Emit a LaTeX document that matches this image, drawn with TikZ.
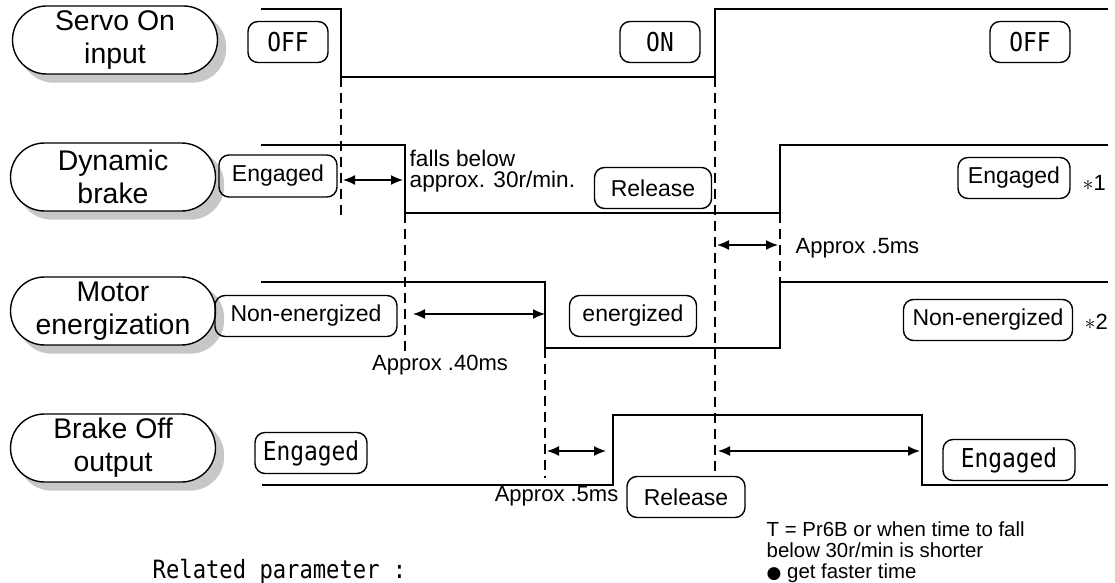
\documentclass[tikz,border=0pt]{standalone}
\usepackage{fontspec}
\setmainfont{Liberation Sans}
\newfontfamily\monofont[FakeStretch=0.88]{DejaVu Sans Mono}
\newfontfamily\symbfont{DejaVu Sans}
\usetikzlibrary{arrows.meta,backgrounds}

\begin{document}
\begin{tikzpicture}[x=0.5pt,y=-0.5pt,>={Latex[length=6pt,width=5pt]},line width=0.7pt,
  signame/.style={draw,fill=white,rounded corners=17pt,minimum width=102.5pt,minimum height=34pt,
    inner sep=0pt,align=center,font=\fontsize{14.2}{16.5}\selectfont},
  state/.style={draw,rounded corners=5pt,minimum height=20.5pt,inner sep=0pt,font=\fontsize{11.5}{13}\selectfont},
  mstate/.style={state,font=\monofont\fontsize{13}{14}\selectfont},
  guide/.style={dash pattern=on 5pt off 3pt},
  note/.style={inner sep=0pt,font=\fontsize{11}{10.5}\selectfont}]
  \useasboundingbox (0,0) rectangle (1115,583);

  % signal names
  \node[signame] (servo) at (115,40) {Servo On\\input};
  \node[signame] (dynbrake) at (113,177) {Dynamic\\brake};
  \node[signame] (motor) at (113,311) {Motor\\energization};
  \node[signame] (brakeoff) at (113,448) {Brake Off\\output};
  \begin{scope}[on background layer]
    \foreach \n in {servo,dynbrake,motor,brakeoff}
      \fill[black!22,rounded corners=17pt] ([shift={(4pt,-4pt)}]\n.south west) rectangle ([shift={(4pt,-4pt)}]\n.north east);
  \end{scope}

  % servo on input
  \draw (261,9) -- (341,9) -- (341,77) -- (715,77) -- (715,9) -- (1108,9);
  \node[mstate,minimum width=40pt] (off1) at (288,42) {OFF};
  \node[mstate,minimum width=40pt] (on) at (660,42) {ON};
  \node[mstate,minimum width=40pt] (off2) at (1030,42) {OFF};

  % dynamic brake
  \draw (261,145) -- (405,145) -- (405,213) -- (780,213) -- (780,145) -- (1108,145);
  \node[state,minimum width=59pt,minimum height=21pt] (dbeng1) at (278,176) {Engaged};
  \node[state,minimum width=58.5pt] (dbrel) at (653,188) {Release};
  \node[state,minimum width=56pt] (dbeng2) at (1014,178) {Engaged};
  \node[note,anchor=west] (star1) at (1082,183) {$\ast$1};
  \node[note,anchor=north west,align=left,font=\fontsize{11.3}{10.5}\selectfont] (falls) at (409,149) {falls below\\approx. 30r/min.};
  \draw[<->] (343,180) -- (403,180);
  \draw[<->] (717,245) -- (778,245);
  \node[note,anchor=west] (dbdelay) at (795,248) {Approx .5ms};

  % motor energization
  \draw (261,282) -- (545,282) -- (545,348) -- (780,348) -- (780,282) -- (1108,282);
  \node[state,minimum width=91pt] (mnon1) at (306,316) {Non-energized};
  \node[state,minimum width=63.5pt] (men) at (633,316) {energized};
  \node[state,minimum width=84.5pt] (mnon2) at (988,320) {Non-energized};
  \node[note,anchor=west] (star2) at (1084,322) {$\ast$2};
  \draw[<->] (413,314) -- (545,314);
  \node[note] (mdelay) at (440,365) {Approx .40ms};

  % brake off output
  \draw (262,485) -- (613,485) -- (613,415) -- (922,415) -- (922,485) -- (1108,485);
  \node[mstate,minimum width=56pt] (boeng1) at (311,453) {Engaged};
  \node[state,minimum width=59pt] (borel) at (686,497) {Release};
  \node[mstate,minimum width=66pt] (boeng2) at (1009,460) {Engaged};
  \draw[<->] (547,451) -- (606,451);
  \draw[<->] (718,451) -- (920,451);
  \node[note,anchor=east] (bodelay) at (619,496) {Approx .5ms};
  \node[note,anchor=north west,align=left,font=\fontsize{10.2}{10.5}\selectfont] (tnote) at (766,521)
    {T = Pr6B or when time to fall\\below 30r/min is shorter\\{\symbfont\fontsize{8.5}{10}\selectfont ●} get faster time};
  \node[inner sep=0pt,anchor=west,font=\monofont\fontsize{12.6}{14}\selectfont] (related) at (152,571) {Related parameter :};

  % timing guides
  \draw[guide] (341,77) -- (341,215);
  \draw[guide] (405,213) -- (405,352);
  \draw[guide] (545,348) -- (545,478);
  \draw[guide] (715,77) -- (715,476);
  \draw[guide] (780,213) -- (780,282);
\end{tikzpicture}
\end{document}
